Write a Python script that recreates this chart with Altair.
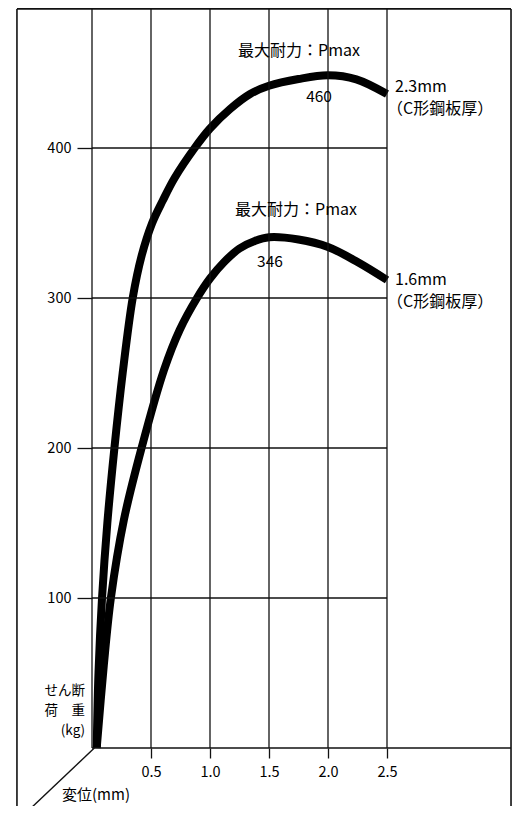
import altair as alt
import pandas as pd

# ---- data ----
disp_23 = [0.04, 0.055, 0.085, 0.13, 0.19, 0.26, 0.345, 0.42, 0.51, 0.6, 0.7, 0.87, 1.0, 1.17, 1.34, 1.5, 1.75, 2.0, 2.24, 2.5]
load_23 = [0, 50, 100, 150, 200, 250, 300, 328, 350, 365, 380, 400, 413, 426, 436, 441.5, 446, 448.5, 445.8, 436]
disp_16 = [0.04, 0.1, 0.16, 0.27, 0.42, 0.61, 0.743, 0.89, 1.0, 1.12, 1.25, 1.38, 1.5, 1.75, 2.0, 2.25, 2.5]
load_16 = [0, 55, 100, 152, 200, 252, 278.7, 300, 313, 324, 333, 338, 340.5, 339, 334, 324, 312]

x_ticks = [0.5, 1.0, 1.5, 2.0, 2.5]
y_ticks = [100, 200, 300, 400]
x_grid = [0, 0.5, 1.0, 1.5, 2.0, 2.5]

peak_labels = ["最大耐力：Pmax", "最大耐力：Pmax"]
peak_values = ["460", "346"]
series_names = ["2.3mm", "1.6mm"]
series_sub = ["（C形鋼板厚）", "（C形鋼板厚）"]
y_title = ["せん断", "荷　重", "(kg)"]
x_title = "変位(mm)"

# ---- layout ----
W, H = 504, 798
PX_PER_X = 118.0
PX_PER_Y = 1.5
X0_PX = 84.0
Y0_PX = 740.0
X_MIN = -X0_PX / PX_PER_X
X_MAX = (W - X0_PX) / PX_PER_X
Y_MAX = Y0_PX / PX_PER_Y
Y_MIN = -(H - Y0_PX) / PX_PER_Y
TOP = Y_MAX - 0.6
X_LEFT_FRAME = -0.636
X_RIGHT_FRAME = 3.551
X_END_GRID = 2.5
FONT = "Noto Sans CJK JP"
INK = "#111111"

xs = alt.Scale(domain=[X_MIN, X_MAX], nice=False, zero=False)
ys = alt.Scale(domain=[Y_MIN, Y_MAX], nice=False, zero=False)

AX = alt.Axis(values=x_ticks, format=".1f", tickSize=10, labelPadding=7,
              domain=False, grid=False, title=None, offset=-(H - Y0_PX),
              labelFontSize=14.5, labelFont=FONT, labelColor="black",
              tickColor=INK, tickWidth=1.3)
AY = alt.Axis(values=y_ticks, tickSize=15, labelPadding=6,
              domain=False, grid=False, title=None, offset=-X0_PX,
              labelFontSize=14.5, labelFont=FONT, labelColor="black",
              tickColor=INK, tickWidth=1.3)


def X(field):
    return alt.X(field, scale=xs, axis=AX)


def Y(field):
    return alt.Y(field, scale=ys, axis=AY)


curves = pd.DataFrame(
    {"d": disp_23 + disp_16,
     "p": load_23 + load_16,
     "s": ["2.3"] * len(disp_23) + ["1.6"] * len(disp_16)}
)

line_layer = alt.Chart(curves).mark_line(
    color="black", strokeWidth=8, interpolate="catmull-rom", strokeCap="butt"
).encode(x=X("d:Q"), y=Y("p:Q"), detail="s:N")

vgrid = alt.Chart(pd.DataFrame({"x": x_grid})).mark_rule(color=INK, strokeWidth=1.3).encode(
    x=X("x:Q"), y=Y("y0:Q"), y2="y1:Q",
).transform_calculate(y0="0", y1=str(TOP))

hgrid = alt.Chart(pd.DataFrame({"y": y_ticks})).mark_rule(color=INK, strokeWidth=1.3).encode(
    y=Y("y:Q"), x=X("x0:Q"), x2="x1:Q",
).transform_calculate(x0="0", x1=str(X_END_GRID))

base_df = pd.DataFrame({"x0": [0.0, X_LEFT_FRAME], "x1": [X_RIGHT_FRAME, X_RIGHT_FRAME],
                        "y": [0.0, TOP]})
hframe = alt.Chart(base_df).mark_rule(color=INK, strokeWidth=1.6).encode(
    y=Y("y:Q"), x=X("x0:Q"), x2="x1:Q",
)

vframe_df = pd.DataFrame({"x": [X_LEFT_FRAME, X_RIGHT_FRAME]})
vframe = alt.Chart(vframe_df).mark_rule(color=INK, strokeWidth=1.6).encode(
    x=X("x:Q"), y=Y("y0:Q"), y2="y1:Q",
).transform_calculate(y0=str(Y_MIN - 5), y1=str(TOP))

diag = alt.Chart(pd.DataFrame({"x": [0.02, -0.61], "y": [0.0, -47.0]})).mark_line(
    color=INK, strokeWidth=1.4, clip=True
).encode(x=X("x:Q"), y=Y("y:Q"))


def text_layer(df, align, size):
    return alt.Chart(df).mark_text(
        align=align, baseline="middle", font=FONT, fontSize=size, color="black"
    ).encode(x=X("x:Q"), y=Y("y:Q"), text="t:N")


peak_df = pd.DataFrame({"x": [1.754, 1.729], "y": [464.7, 358.7], "t": peak_labels})
val_df = pd.DataFrame({"x": [1.924, 1.508], "y": [434.0, 324.0], "t": peak_values})
name_df = pd.DataFrame({"x": [2.568, 2.50, 2.568, 2.50],
                        "y": [440.7, 426.0, 312.0, 297.3],
                        "t": [series_names[0], series_sub[0], series_names[1], series_sub[1]]})
ytitle_df = pd.DataFrame({"x": [-0.059] * 3, "y": [38.3, 25.0, 11.3], "t": y_title})
xtitle_df = pd.DataFrame({"x": [-0.254], "y": [-31.3], "t": [x_title]})

chart = alt.layer(
    line_layer,
    vgrid,
    hgrid,
    hframe,
    vframe,
    diag,
    text_layer(peak_df, "center", 16),
    text_layer(val_df, "center", 15.5),
    text_layer(name_df, "left", 16),
    text_layer(ytitle_df, "right", 13.5),
    text_layer(xtitle_df, "left", 15),
).properties(
    width=W, height=H, padding=0, autosize=alt.AutoSizeParams(type="none"),
    background="white",
).configure_view(stroke=None)

chart.save("out.html", embed_options={"renderer": "svg", "actions": False})
